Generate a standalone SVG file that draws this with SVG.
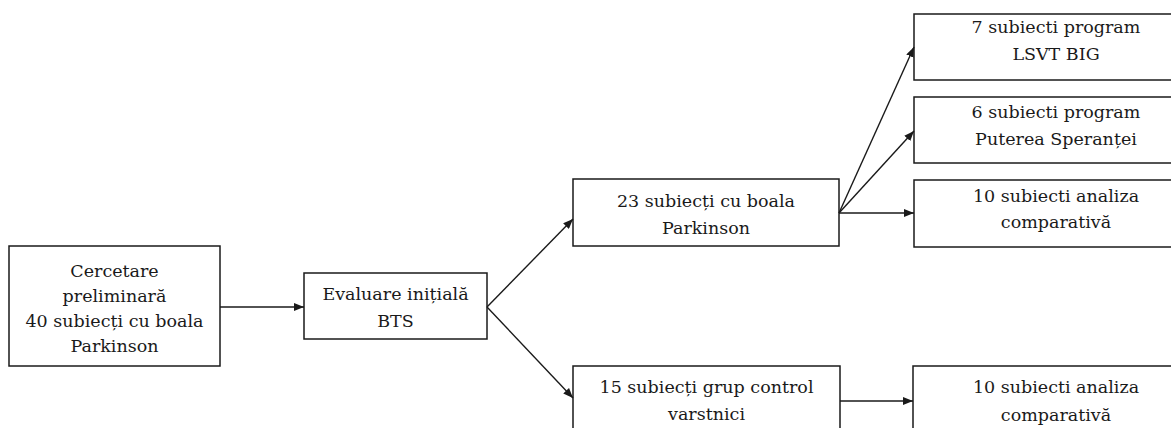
<svg xmlns="http://www.w3.org/2000/svg" width="1171" height="428" viewBox="0 0 1171 428">
<defs>
<marker id="ah" markerWidth="10" markerHeight="8" refX="10" refY="4" orient="auto" markerUnits="userSpaceOnUse">
<path d="M0,0 L10,4 L0,8 Z" fill="#1a1a1a"/>
</marker>
</defs>
<g fill="#fff" stroke="#1a1a1a" stroke-width="1.5">
<g id="n1"><rect x="9" y="246" width="211" height="120"/>
<g font-family="DejaVu Serif" font-size="17.5" fill="#1a1a1a" stroke="none" text-anchor="middle">
<text x="114.5" y="277">Cercetare</text>
<text x="114.5" y="302">preliminară</text>
<text x="114.5" y="327">40 subiecți cu boala</text>
<text x="114.5" y="352">Parkinson</text></g></g>
<g id="n2"><rect x="304" y="273" width="183" height="66"/>
<g font-family="DejaVu Serif" font-size="17.5" fill="#1a1a1a" stroke="none" text-anchor="middle">
<text x="395.5" y="300">Evaluare inițială</text>
<text x="395.5" y="326.5">BTS</text></g></g>
<g id="n3"><rect x="573" y="179" width="266" height="67"/>
<g font-family="DejaVu Serif" font-size="17.5" fill="#1a1a1a" stroke="none" text-anchor="middle">
<text x="706" y="207">23 subiecți cu boala</text>
<text x="706" y="234">Parkinson</text></g></g>
<g id="n4"><rect x="573" y="366" width="267" height="70"/>
<g font-family="DejaVu Serif" font-size="17.5" fill="#1a1a1a" stroke="none" text-anchor="middle">
<text x="706.5" y="393">15 subiecți grup control</text>
<text x="706.5" y="420">varstnici</text></g></g>
<g id="n5"><rect x="914" y="14" width="284" height="66"/>
<g font-family="DejaVu Serif" font-size="17.5" fill="#1a1a1a" stroke="none" text-anchor="middle">
<text x="1056" y="33">7 subiecti program</text>
<text x="1056" y="60">LSVT BIG</text></g></g>
<g id="n6"><rect x="914" y="97" width="284" height="66"/>
<g font-family="DejaVu Serif" font-size="17.5" fill="#1a1a1a" stroke="none" text-anchor="middle">
<text x="1056" y="118">6 subiecti program</text>
<text x="1056" y="145">Puterea Speranței</text></g></g>
<g id="n7"><rect x="914" y="180" width="284" height="67"/>
<g font-family="DejaVu Serif" font-size="17.5" fill="#1a1a1a" stroke="none" text-anchor="middle">
<text x="1056" y="202">10 subiecti analiza</text>
<text x="1056" y="228">comparativă</text></g></g>
<g id="n8"><rect x="913" y="366" width="285" height="70"/>
<g font-family="DejaVu Serif" font-size="17.5" fill="#1a1a1a" stroke="none" text-anchor="middle">
<text x="1056" y="393">10 subiecti analiza</text>
<text x="1056" y="421">comparativă</text></g></g>
</g>
<g id="connectors" stroke="#1a1a1a" stroke-width="1.4" fill="none" marker-end="url(#ah)">
<line x1="220" y1="307" x2="304" y2="307"/>
<line x1="487" y1="307" x2="573" y2="219"/>
<line x1="487" y1="307" x2="573" y2="398"/>
<line x1="839" y1="213" x2="914" y2="47"/>
<line x1="839" y1="213" x2="914" y2="131"/>
<line x1="839" y1="213" x2="914" y2="213"/>
<line x1="840" y1="401" x2="913" y2="401"/>
</g>
</svg>
